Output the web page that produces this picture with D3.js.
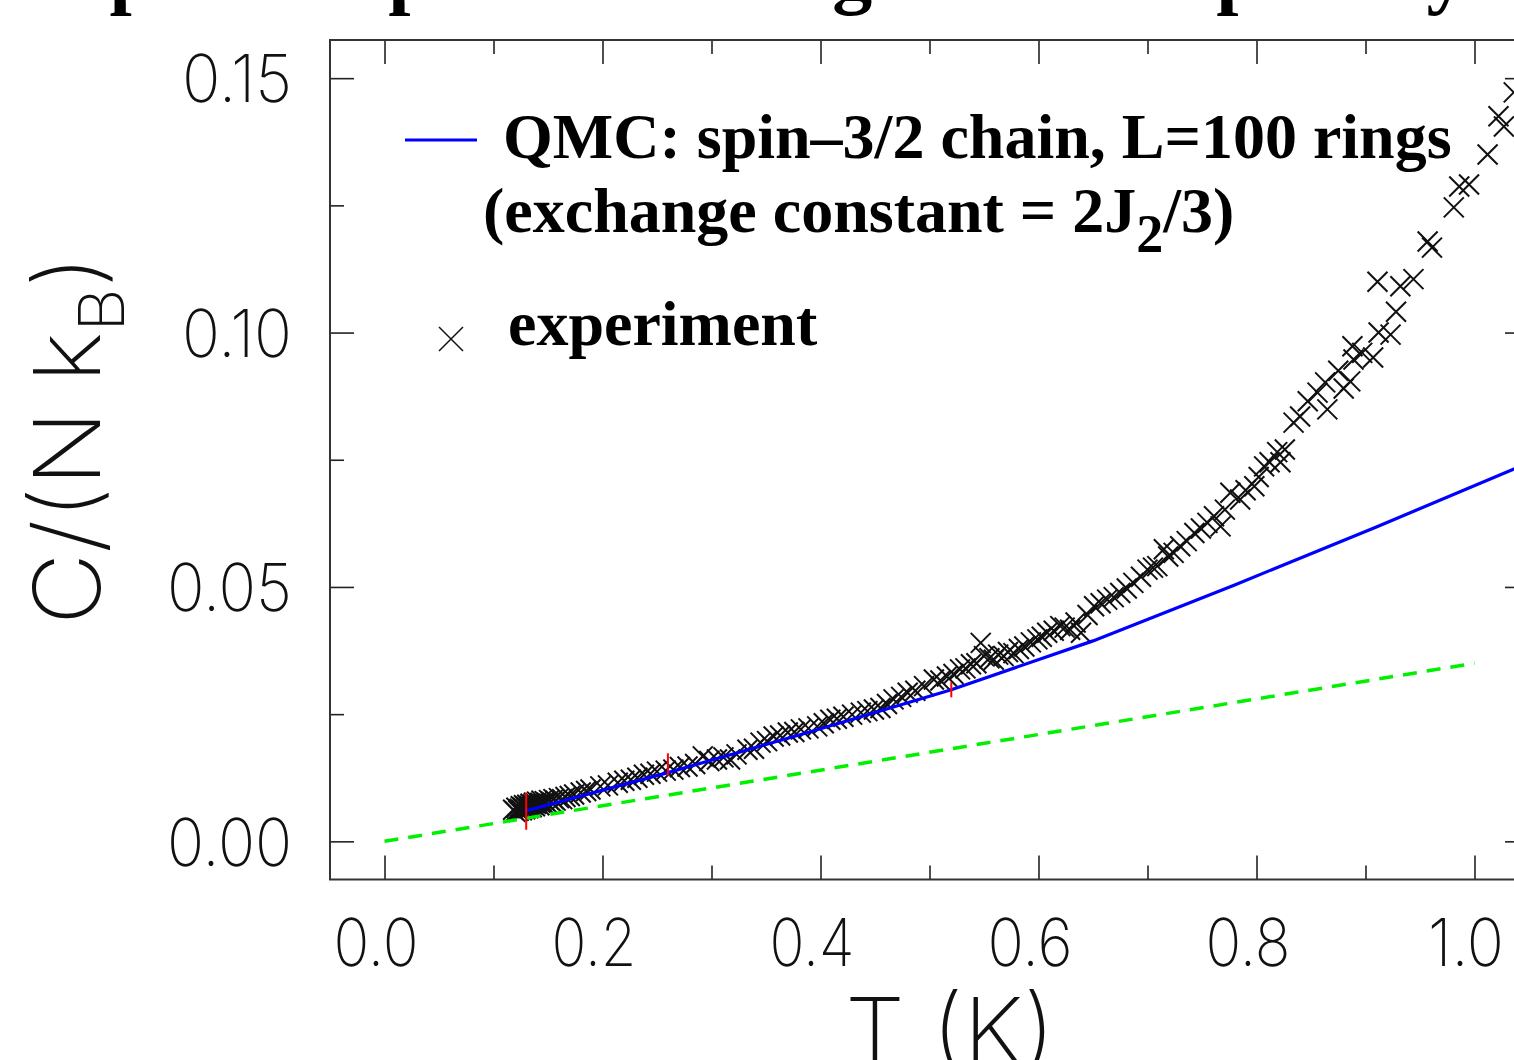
<!DOCTYPE html>
<html>
<head>
<meta charset="utf-8">
<script src="https://d3js.org/d3.v7.min.js"></script>
<style>
  html, body { margin: 0; padding: 0; background: #fff; }
  svg { display: block; overflow: hidden; }
</style>
</head>
<body>
<div class="chart"></div>
<script>
"use strict";

// QMC: spin-3/2 chain, L=100 rings
var qmcT = [0.13, 0.26, 0.39, 0.52, 0.65, 0.78, 0.91, 1.04];
var qmcC = [0.0060, 0.0135, 0.0215, 0.0298, 0.0394, 0.0504, 0.0618, 0.0735];

// QMC error bars
var errT  = [0.13, 0.26, 0.52];
var errLo = [0.0023, 0.0129, 0.0283];
var errHi = [0.0096, 0.0173, 0.0313];

// green dashed line
var refT = [0.0, 1.0];
var refC = [0.0, 0.0350];

// experiment
var expT = [
  0.118, 0.120, 0.121, 0.123, 0.124, 0.125, 0.126, 0.127, 0.128, 0.129,
  0.130, 0.131, 0.132, 0.133, 0.134, 0.135, 0.136, 0.137, 0.138, 0.139,
  0.140, 0.142, 0.143, 0.144, 0.146, 0.147, 0.149, 0.151, 0.153, 0.155,
  0.157, 0.160, 0.163, 0.166, 0.170, 0.174,
  0.180, 0.185, 0.189, 0.198, 0.205, 0.214, 0.220, 0.226, 0.232, 0.238,
  0.244, 0.250, 0.258, 0.265, 0.271, 0.278, 0.285, 0.292, 0.298, 0.305,
  0.311, 0.317, 0.323, 0.333, 0.339, 0.345, 0.351, 0.357, 0.363, 0.370,
  0.376, 0.382, 0.389, 0.397, 0.403, 0.409, 0.415, 0.421, 0.429, 0.437,
  0.443, 0.449, 0.455, 0.461, 0.467, 0.474, 0.480, 0.487, 0.495, 0.504,
  0.510, 0.516, 0.522, 0.528, 0.533, 0.538, 0.543, 0.547, 0.550, 0.555,
  0.559, 0.563, 0.568, 0.572, 0.577, 0.582, 0.587, 0.593, 0.599, 0.603,
  0.608, 0.614, 0.620, 0.624, 0.629, 0.634, 0.639, 0.645, 0.651, 0.657,
  0.663, 0.669, 0.675, 0.681, 0.687, 0.694, 0.700, 0.705, 0.709, 0.715,
  0.719, 0.724, 0.730, 0.736, 0.743, 0.749, 0.755, 0.761, 0.767, 0.771,
  0.776, 0.785, 0.790, 0.798, 0.802, 0.807, 0.812, 0.819, 0.822, 0.826,
  0.834, 0.840, 0.847, 0.856, 0.863, 0.865, 0.875, 0.880, 0.886, 0.888,
  0.889, 0.897, 0.907, 0.911, 0.912, 0.923, 0.928, 0.932, 0.944, 0.957,
  0.961, 0.981, 0.986, 0.995, 1.012, 1.022, 1.027, 1.036
];
var expC = [
  0.0062, 0.0058, 0.0066, 0.0060, 0.0064, 0.0069, 0.0061, 0.0066, 0.0071, 0.0063,
  0.0068, 0.0072, 0.0065, 0.0070, 0.0074, 0.0067, 0.0072, 0.0076, 0.0069, 0.0074,
  0.0078, 0.0071, 0.0076, 0.0080, 0.0074, 0.0079, 0.0076, 0.0081, 0.0078, 0.0083,
  0.0080, 0.0085, 0.0083, 0.0087, 0.0089, 0.0092,
  0.0096, 0.0099, 0.0102, 0.0108, 0.0110, 0.0115, 0.0119, 0.0121, 0.0125, 0.0131,
  0.0133, 0.0137, 0.0139, 0.0141, 0.0146, 0.0147, 0.0152, 0.0167, 0.0158, 0.0161,
  0.0165, 0.0161, 0.0171, 0.0180, 0.0182, 0.0194, 0.0197, 0.0206, 0.0208, 0.0214,
  0.0215, 0.0220, 0.0222, 0.0226, 0.0232, 0.0239, 0.0241, 0.0245, 0.0249, 0.0253,
  0.0256, 0.0259, 0.0262, 0.0270, 0.0279, 0.0284, 0.0292, 0.0296, 0.0305, 0.0318,
  0.0316, 0.0324, 0.0329, 0.0338, 0.0340, 0.0348, 0.0350, 0.0390, 0.0364, 0.0360,
  0.0357, 0.0367, 0.0364, 0.0372, 0.0370, 0.0378, 0.0383, 0.0391, 0.0397, 0.0402,
  0.0410, 0.0414, 0.0423, 0.0420, 0.0416, 0.0430, 0.0410, 0.0445, 0.0462, 0.0468,
  0.0475, 0.0480, 0.0488, 0.0497, 0.0508, 0.0520, 0.0534, 0.0538, 0.0541, 0.0574,
  0.0560, 0.0567, 0.0580, 0.0590, 0.0606, 0.0615, 0.0626, 0.0639, 0.0619, 0.0652,
  0.0685, 0.0672, 0.0690, 0.0698, 0.0716, 0.0737, 0.0745, 0.0765, 0.0745, 0.0770,
  0.0823, 0.0835, 0.0865, 0.0882, 0.0902, 0.0849, 0.0925, 0.0890, 0.0904, 0.0973,
  0.0947, 0.0960, 0.0951, 0.1100, 0.1000, 0.0996, 0.1041, 0.1091, 0.1105, 0.1179,
  0.1167, 0.1246, 0.1287, 0.1291, 0.1350, 0.1425, 0.1405, 0.1472
];

var xMajor = [0.0, 0.2, 0.4, 0.6, 0.8, 1.0];
var xMinor = [0.1, 0.3, 0.5, 0.7, 0.9];
var yMajor = [0.00, 0.05, 0.10, 0.15];
var yMinor = [0.025, 0.075, 0.125];

// title words (only their lower edge is inside the picture)
var titleWords = ["Specific", "spin\u22123/2", "ring", "chain:", "spin", "by"];
var titleX     = [65, 357, 730, 895, 1185, 1382];

var width = 1514,
    height = 1060;

var svg = d3.select(".chart")
          .append("svg")
          .attr("width", width)
          .attr("height", height);

var x = d3.scaleLinear().domain([-0.05, 1.05]).range([330, 1529]);
var y = d3.scaleLinear().domain([-0.0075, 0.1575]).range([879.5, 40]);

var thin = "Inter, 'Open Sans', 'DejaVu Sans', sans-serif";
var serif = "'Liberation Serif', 'Times New Roman', serif";

svg.append("defs").append("clipPath").attr("id", "plot")
   .append("rect")
      .attr("x", x.range()[0]).attr("y", y.range()[1])
      .attr("width", x.range()[1] - x.range()[0])
      .attr("height", y.range()[0] - y.range()[1]);

// title, cut off above the picture
svg.append("g")
   .selectAll("text")
   .data(titleWords)
   .enter().append("text")
      .attr("x", function(d, i){ return titleX[i]; })
      .attr("y", -1)
      .attr("font-family", serif)
      .attr("font-weight", "bold")
      .attr("font-size", 80)
      .text(function(d){ return d; });

// ticks
function addTicks(gen, tx, ty, values, len, fmt){
  var g = svg.append("g")
      .attr("transform", "translate(" + tx + "," + ty + ")")
      .call(gen.tickValues(values)
               .tickSizeInner(-len)
               .tickSizeOuter(0)
               .tickPadding(0)
               .tickFormat(fmt ? d3.format(fmt) : ""));
  g.select(".domain").remove();
  g.selectAll(".tick line").attr("stroke", "#222").attr("stroke-width", 1.6);
  g.attr("font-family", thin).attr("font-size", 66).attr("font-weight", 200);
  g.selectAll(".tick text").attr("fill", "#111");
  return g;
}

var x0 = x.range()[0], x1 = x.range()[1], y0 = y.range()[0], y1 = y.range()[1];

var bottom = addTicks(d3.axisBottom(x), 0, y0, xMajor, 24, ".1f");
addTicks(d3.axisBottom(x), 0, y0, xMinor, 14);
addTicks(d3.axisTop(x), 0, y1, xMajor, 24);
addTicks(d3.axisTop(x), 0, y1, xMinor, 14);
var left = addTicks(d3.axisLeft(y), x0, 0, yMajor, 24, ".2f");
addTicks(d3.axisLeft(y), x0, 0, yMinor, 14);
addTicks(d3.axisRight(y), x1, 0, yMajor, 24);
addTicks(d3.axisRight(y), x1, 0, yMinor, 14);

bottom.selectAll(".tick text")
      .attr("y", 86)
      .attr("dy", 0)
      .attr("x", -9)
      .attr("textLength", function(d){ return d >= 1 ? 76 : 85; })
      .attr("lengthAdjust", "spacingAndGlyphs");

left.selectAll(".tick text")
      .attr("x", -38)
      .attr("dy", "0.36em")
      .attr("textLength", function(d){ return d >= 0.1 ? 110 : 125; })
      .attr("lengthAdjust", "spacingAndGlyphs");

// frame
svg.append("rect")
   .attr("x", x0).attr("y", y1)
   .attr("width", x1 - x0).attr("height", y0 - y1)
   .attr("fill", "none")
   .attr("stroke", "#333")
   .attr("stroke-width", 2);

// axis labels
svg.append("text")
   .attr("x", 845)
   .attr("y", 1064)
   .attr("font-family", thin)
   .attr("font-weight", 200)
   .attr("font-size", 92)
   .attr("fill", "#111")
   .attr("textLength", 210)
   .attr("lengthAdjust", "spacingAndGlyphs")
   .text("T (K)");

var ylab = svg.append("text")
   .attr("transform", "translate(100,625) rotate(-90)")
   .attr("font-family", thin)
   .attr("font-weight", 200)
   .attr("font-size", 92)
   .attr("fill", "#111")
   .attr("textLength", 370)
   .attr("lengthAdjust", "spacingAndGlyphs");
ylab.append("tspan").text("C/(N k");
ylab.append("tspan").attr("font-size", 63).attr("dy", 24).text("B");
ylab.append("tspan").attr("dy", -24).text(")");

var plot = svg.append("g").attr("clip-path", "url(#plot)");

var cross = function(r){ return "M" + (-r) + "," + (-r) + "L" + r + "," + r + "M" + (-r) + "," + r + "L" + r + "," + (-r); };

// experiment points
plot.append("g")
    .selectAll("path")
    .data(d3.range(expT.length))
    .enter().append("path")
        .attr("d", cross(10))
        .attr("transform", function(i){ return "translate(" + x(expT[i]) + "," + y(expC[i]) + ")"; })
        .attr("fill", "none")
        .attr("stroke", "#111")
        .attr("stroke-width", 2);

// green dashed line
plot.append("path")
    .attr("d", d3.line()(refT.map(function(t, i){ return [x(t), y(refC[i])]; })))
    .attr("fill", "none")
    .attr("stroke", "#00f000")
    .attr("stroke-width", 3.5)
    .attr("stroke-dasharray", "14,10");

// QMC curve
plot.append("path")
    .attr("d", d3.line()(qmcT.map(function(t, i){ return [x(t), y(qmcC[i])]; })))
    .attr("fill", "none")
    .attr("stroke", "#0000ff")
    .attr("stroke-width", 3.2);

// error bars
plot.append("g")
    .selectAll("line")
    .data(d3.range(errT.length))
    .enter().append("line")
        .attr("x1", function(i){ return x(errT[i]); })
        .attr("x2", function(i){ return x(errT[i]); })
        .attr("y1", function(i){ return y(errLo[i]); })
        .attr("y2", function(i){ return y(errHi[i]); })
        .attr("stroke", "#ff0000")
        .attr("stroke-width", 2);

// legend
svg.append("line")
   .attr("x1", 405).attr("x2", 477)
   .attr("y1", 140).attr("y2", 140)
   .attr("stroke", "#0000ff")
   .attr("stroke-width", 3);

svg.append("text")
   .attr("x", 503).attr("y", 158)
   .attr("font-family", serif).attr("font-weight", "bold").attr("font-size", 64)
   .text("QMC: spin\u20133/2 chain, L=100 rings");

var leg2 = svg.append("text")
   .attr("x", 483).attr("y", 232)
   .attr("font-family", serif).attr("font-weight", "bold").attr("font-size", 64);
leg2.append("tspan").text("(exchange constant = 2J");
leg2.append("tspan").attr("font-size", 54).attr("dy", 20).text("2");
leg2.append("tspan").attr("dy", -20).text("/3)");

svg.append("path")
   .attr("d", cross(12))
   .attr("transform", "translate(451,339)")
   .attr("fill", "none")
   .attr("stroke", "#111")
   .attr("stroke-width", 1.5);

svg.append("text")
   .attr("x", 508).attr("y", 345)
   .attr("font-family", serif).attr("font-weight", "bold").attr("font-size", 64)
   .text("experiment");
</script>
</body>
</html>
